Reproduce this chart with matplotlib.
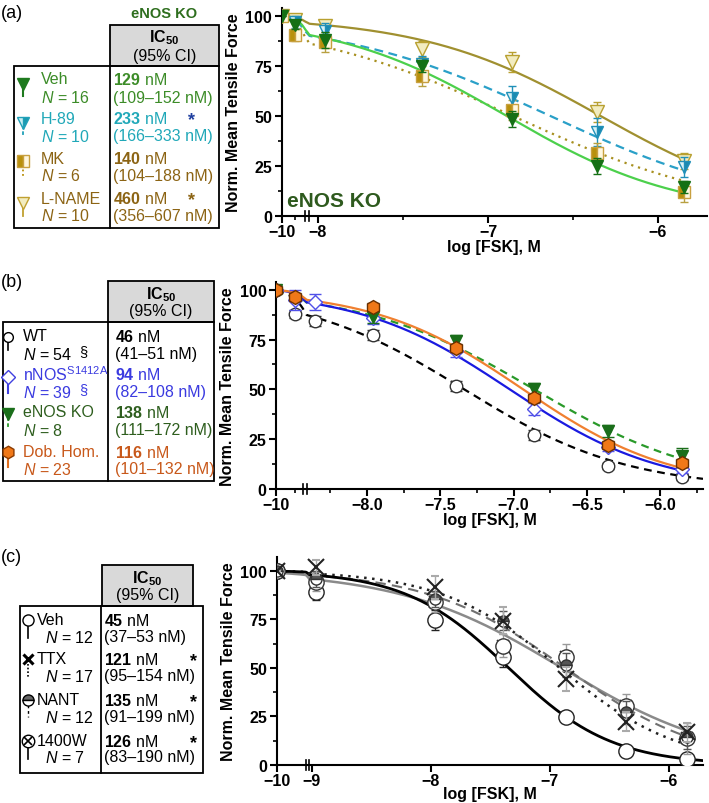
import numpy as np
import matplotlib.pyplot as plt
from matplotlib.patches import Rectangle

plt.rcParams['font.family'] = ['Liberation Sans', 'DejaVu Sans']
plt.rcParams['mathtext.fontset'] = 'custom'
plt.rcParams['mathtext.rm'] = 'Liberation Sans'
plt.rcParams['mathtext.it'] = 'Liberation Sans:italic'
plt.rcParams['mathtext.bf'] = 'Liberation Sans:bold'

# ---------------- panel (a): eNOS KO ----------------
a_x = [-10, -9, -7.96, -7.39, -6.86, -6.36, -5.85]
a_veh = [100, 95.7, 88.3, 75.3, 48.5, 25.1, 14.2]
a_veh_err = [0, 2, 4, 3, 4, 4, 3]
a_h89 = [100, 97, 92.5, 76, 59, 41.8, 24.2]
a_h89_err = [0, 3, 4, 4, 6, 7, 5]
a_mk = [100, 90.6, 87, 70, 53, 31.3, 11.7]
a_mk_err = [0, 3, 5, 5, 5, 5, 5]
a_lname = [100, 98, 95.3, 83.6, 77, 52.2, 27.6]
a_lname_err = [0, 2, 3, 4, 5, 5, 4]
a_names = ['Veh', 'H-89', 'MK', 'L-NAME']
a_n = [16, 10, 6, 10]
a_ic50 = [129, 233, 140, 460]
a_ci = ['(109\u2013152 nM)', '(166\u2013333 nM)', '(104\u2013188 nM)', '(356\u2013607 nM)']
a_star = ['', '*', '', '*']
a_hill = [0.85, 0.68, 0.67, 0.825]

# ---------------- panel (b): genotypes ----------------
b_x = [-10, -9, -8.35, -7.96, -7.39, -6.86, -6.36, -5.85]
b_wt = [100, 87.8, 84.4, 77.4, 51.8, 27.3, 11.4, 5.9]
b_wt_err = [0, 2, 2.5, 2.5, 2.5, 2.5, 1.5, 1.5]
b_nnos = [100, 95, 93.6, 85.6, 69.4, 40.1, 20.9, 10]
b_nnos_err = [0, 5, 4, 3, 3, 3, 2, 2]
b_x_enos = [-10, -7.96, -7.39, -6.86, -6.36, -5.85]
b_enos = [100, 86.1, 74.4, 50.2, 29.3, 16.7]
b_enos_err = [2, 3, 3, 3, 3, 4]
b_x_dob = [-10, -9, -7.96, -7.39, -6.86, -6.36, -5.85]
b_dob = [100, 96.2, 91.1, 70.7, 45.7, 22.1, 13]
b_dob_err = [0, 2, 2, 2, 2, 2, 2]
b_names = ['WT', 'nNOS$^{\\mathrm{S1412A}}$', 'eNOS KO', 'Dob. Hom.']
b_n = [54, 39, 8, 23]
b_ic50 = [46, 94, 138, 116]
b_ci = ['(41\u201351 nM)', '(82\u2013108 nM)', '(111\u2013172 nM)', '(101\u2013132 nM)']
b_hill = [0.78, 0.845, 0.746, 0.86]

# ---------------- panel (c): treatments ----------------
c_x = [-10, -8.96, -7.96, -7.39, -6.86, -6.36, -5.85]
c_veh = [100, 88.9, 74.6, 55.4, 24.5, 7.4, 3.1]
c_veh_err = [0, 4, 5, 5, 2, 2, 2]
c_ttx = [100, 101.7, 91.4, 74.3, 44.3, 22.3, 16.8]
c_ttx_err = [0, 4, 6, 7, 6, 5, 5]
c_nant = [100, 95.7, 85.4, 74.3, 51.5, 27.1, 14.2]
c_nant_err = [0, 4, 4, 5, 6, 6, 6]
c_w1400 = [100, 94.3, 84.0, 61.4, 55.4, 30.5, 13.7]
c_w1400_err = [0, 5, 5, 6, 7, 6, 8]
c_names = ['Veh', 'TTX', 'NANT', '1400W']
c_n = [12, 17, 12, 7]
c_ic50 = [45, 121, 135, 126]
c_ci = ['(37\u201353 nM)', '(95\u2013154 nM)', '(91\u2013199 nM)', '(83\u2013190 nM)']
c_star = ['', '*', '*', '*']
c_hill = [1.0, 0.87, 0.75, 0.636]


def hill(x, ic50, h):
    return 100.0 / (1 + 10 ** ((x - np.log10(ic50 * 1e-9)) * h))


def setup_axis(ax, knots, xlim, ylim, major, labels, minor, breaks_u, xpad=0):
    kx = [k[0] for k in knots]
    ku = [k[1] for k in knots]
    slope = (ku[1] - ku[0]) / (kx[1] - kx[0])
    KX = np.array([-14] + kx + [-4.0])
    KU = np.array([ku[0] - slope * 4] + ku + [-4.0])
    fwd = lambda x: np.interp(x, KX, KU)
    inv = lambda u: np.interp(u, KU, KX)
    ax.set_xscale('function', functions=(fwd, inv))
    ax.set_xlim(*xlim)
    ax.set_ylim(*ylim)
    ax.set_xticks(major)
    ax.set_xticklabels(labels)
    ax.set_xticks(minor, minor=True)
    ax.set_yticks([0, 25, 50, 75, 100])
    ax.set_yticks([12.5, 37.5, 62.5, 87.5], minor=True)
    for s in ['top', 'right']:
        ax.spines[s].set_visible(False)
    for s in ['left', 'bottom']:
        ax.spines[s].set_linewidth(1.5)
    ax.tick_params(which='major', length=5, width=1.5, labelsize=11.5, pad=2)
    ax.tick_params(axis='x', which='major', pad=1)
    ax.tick_params(which='minor', length=3, width=1.2)
    for t in ax.get_xticklabels() + ax.get_yticklabels():
        t.set_fontweight('bold')
    ax.set_xlabel('log [FSK], M', fontsize=11.5, fontweight='bold', labelpad=xpad)
    ax.set_ylabel('Norm. Mean Tensile Force', fontsize=11.5, fontweight='bold', labelpad=3)
    ax.patch.set_visible(False)
    for u in breaks_u:
        xb = float(inv(u))
        ax.plot([xb, xb], [-0.025, 0.025], transform=ax.get_xaxis_transform(),
                color='black', lw=1.2, clip_on=False)


fig = plt.figure(figsize=(7.09, 8.04), dpi=100)
bg = fig.add_axes([0, 0, 1, 1])
bg.set_xlim(0, 709)
bg.set_ylim(804, 0)
bg.axis('off')

FS = 11.5


def draw_table(head, body, div, ic_x, y_ic, rows, lab_x, n_x, r_x, star_x,
               names, ns, ic50, ci, colors, stars, star_colors):
    bg.add_patch(Rectangle((head[0], head[1]), head[2] - head[0], head[3] - head[1],
                           facecolor='#d9d9d9', edgecolor='black', lw=1.3))
    bg.add_patch(Rectangle((body[0], body[1]), body[2] - body[0], body[3] - body[1],
                           facecolor='none', edgecolor='black', lw=1.3))
    bg.plot([div, div], [body[1], body[3]], color='black', lw=1.3)
    bg.text(ic_x, y_ic[0], '$\\mathbf{IC_{50}}$', ha='center', va='center', fontsize=FS)
    bg.text(ic_x, y_ic[1], '(95% CI)', ha='center', va='center', fontsize=FS)
    for i in range(4):
        y1, y2 = rows[i]
        bg.text(lab_x, y1, names[i], color=colors[i], va='center', fontsize=FS)
        bg.text(n_x, y2, '$\\mathit{N}$ = %d' % ns[i], color=colors[i], va='center', fontsize=FS)
        bg.text(r_x, y1, '$\\mathbf{%d}$ nM' % ic50[i], color=colors[i], va='center', fontsize=FS)
        bg.text(r_x, y2, ci[i], color=colors[i], va='center', fontsize=FS)
        if stars[i]:
            bg.text(star_x, y1 + 2, stars[i], color=star_colors[i], va='center', ha='center',
                    fontsize=13, fontweight='bold')


# ================= panel (a) =================
a_cols = ['#3c8c28', '#20a8b8', '#8c6414', '#8c6414']
bg.text(1, 13, '(a)', fontsize=13, va='center')
bg.text(164, 14, 'eNOS KO', fontsize=10.5, fontweight='bold', color='#2e6e1e', ha='center', va='center')
a_rows = [(80, 98), (119, 137), (159, 176), (199, 216)]
draw_table((110, 26, 219, 67), (14, 67, 219, 229), 110, 164.5, (38, 56), a_rows,
           41, 41, 113, 192, a_names, a_n, a_ic50, a_ci, a_cols, a_star,
           ['', '#2040a0', '', '#8c6414'])
# legend symbols
bg.plot([23, 23], [86, 97], color='#1e7a1e', lw=1.5)
bg.plot([23], [85], marker='v', ms=9, color='#1e7a1e')
bg.plot([23, 23], [126, 138], color='#20a0b8', lw=1.3, ls=(0, (2, 1.5)))
bg.plot([23], [124], marker='v', ms=8, mfc='#1a9ab0', mfcalt='#c8eef2', fillstyle='right', mec='#20a0b8')
bg.plot([23, 23], [166, 178], color='#b8900c', lw=1.3, ls=(0, (1, 1.5)))
bg.plot([23], [162], marker='s', ms=8, mfc='#b8900c', mfcalt='#fff6dc', fillstyle='left', mec='#c8a040')
bg.plot([23, 23], [207, 217], color='#c0a030', lw=1.3)
bg.plot([23], [204], marker='v', ms=9, mfc='#f2ecc0', mec='#c0a030')

ax_a = fig.add_axes([281.7 / 709, 1 - 216.7 / 804, 425.3 / 709, 207.3 / 804])
setup_axis(ax_a, [(-10, -8.2135), (-9, -8.135), (-8.25, -8.076), (-8.05, -8.05)],
           (-10, -5.712), (0, 104), [-10, -8, -7, -6], ['\u221210', '\u22128', '\u22127', '\u22126'],
           [-9, -7.5, -6.5], [-8.074, -8.053])
a_end = -5.85
xs = np.linspace(-10, a_end, 600)
ax_a.plot(xs, hill(xs, a_ic50[3], a_hill[3]), color='#a09030', lw=1.6, zorder=2)
ax_a.plot(xs, hill(xs, a_ic50[2], a_hill[2]), color='#a89020', lw=1.6, ls=(0, (1, 2.2)), zorder=2)
ax_a.plot(xs, hill(xs, a_ic50[1], a_hill[1]), color='#2aa0c8', lw=1.6, ls=(0, (4, 2.5)), zorder=2)
ax_a.plot(xs, hill(xs, a_ic50[0], a_hill[0]), color='#4cd04c', lw=1.6, zorder=2)
ax_a.errorbar(a_x, a_lname, yerr=a_lname_err, fmt='v', ms=10, mfc='#f2ecc0', mec='#b8a030',
              ecolor='#b8a030', elinewidth=1, capsize=3, zorder=3)
ax_a.errorbar(a_x, a_h89, yerr=a_h89_err, fmt='v', ms=9, mfc='#1a8ab0', mfcalt='#d8f2f6',
              fillstyle='right', mec='#2090b8', ecolor='#2090b8', elinewidth=1, capsize=3, zorder=4)
ax_a.errorbar(a_x, a_mk, yerr=a_mk_err, fmt='s', ms=8, mfc='#b8900c', mfcalt='#fff8e0',
              fillstyle='left', mec='#c8a040', ecolor='#b8a040', elinewidth=1, capsize=3, zorder=4)
ax_a.errorbar(a_x, a_veh, yerr=a_veh_err, fmt='v', ms=9, color='#157015',
              ecolor='#157015', elinewidth=1, capsize=3, zorder=5)
ax_a.text(0.012, 0.048, 'eNOS KO', transform=ax_a.transAxes, fontsize=15, fontweight='bold',
          color='#2e5a1e', va='baseline')

# ================= panel (b) =================
b_cols = ['black', '#3a3ae0', '#2e5e1e', '#c8581a']
bg.text(1, 283, '(b)', fontsize=13, va='center')
b_rows = [(337, 355), (375, 393), (413, 431), (453, 470)]
draw_table((108, 282, 214, 323), (3, 323, 214, 482), 108, 161, (295, 312), b_rows,
           23, 23, 115, 0, b_names, b_n, b_ic50, b_ci, b_cols, ['', '', '', ''],
           ['', '', '', ''])
bg.text(83, 352, '\u00a7', color='black', fontsize=10.5, ha='center', va='center')
bg.text(83, 390, '\u00a7', color='#3a3ae0', fontsize=10.5, ha='center', va='center')
bg.plot([8, 8], [342, 351], color='black', lw=1.2)
bg.plot([8], [338], marker='o', ms=7, mfc='white', mec='black')
bg.plot([8, 8], [382, 394], color='#4040e0', lw=1.5)
bg.plot([8], [378], marker='D', ms=7, mfc='white', mec='#4040e0')
bg.plot([8, 8], [418, 430], color='#2a9a2a', lw=1.3, ls=(0, (2, 1.5)))
bg.plot([8], [415], marker='v', ms=8, color='#1a6e1a')
bg.plot([8, 8], [456, 468], color='#e07020', lw=1.5)
bg.plot([8], [453], marker='h', ms=9, mfc='#f07818', mec='#8a3a00')

ax_b = fig.add_axes([276 / 709, 1 - 490 / 804, 427 / 709, 207.3 / 804])
setup_axis(ax_b, [(-10, -8.619), (-9, -8.489), (-8.55, -8.43), (-8.41, -8.41)],
           (-10, -5.71), (0, 104), [-10, -8, -7.5, -7, -6.5, -6],
           ['\u221210', '\u22128.0', '\u22127.5', '\u22127.0', '\u22126.5', '\u22126.0'],
           [-9, -8.25, -7.75, -7.25, -6.75, -6.25, -5.75], [-8.4345, -8.4086])
xs = np.linspace(-10, -5.85, 600)
xw = np.linspace(-10, -5.71, 600)
ax_b.plot(xw, hill(xw, b_ic50[0], b_hill[0]), color='black', lw=1.6, ls=(0, (3.5, 2.5)), zorder=2)
ax_b.plot(xs, hill(xs, b_ic50[2], b_hill[2]), color='#2a9a2a', lw=1.6, ls=(0, (3.5, 2.5)), zorder=2)
ax_b.plot(xs, hill(xs, b_ic50[1], b_hill[1]), color='#1a1ae0', lw=1.6, zorder=2)
ax_b.plot(xs, hill(xs, b_ic50[3], b_hill[3]), color='#f08030', lw=1.6, zorder=2)
ax_b.errorbar(b_x, b_wt, yerr=b_wt_err, fmt='o', ms=9, mfc='white', mec='#333333',
              ecolor='#333333', elinewidth=1, capsize=4, zorder=3)
ax_b.errorbar(b_x, b_nnos, yerr=b_nnos_err, fmt='D', ms=7, mfc='white', mec='#5050e8',
              ecolor='#5050e8', elinewidth=1, capsize=4, zorder=4)
ax_b.errorbar(b_x_enos, b_enos, yerr=b_enos_err, fmt='v', ms=9, color='#1a6e1a',
              ecolor='#1a6e1a', elinewidth=1, capsize=4, zorder=5)
ax_b.errorbar(b_x_dob, b_dob, yerr=b_dob_err, fmt='h', ms=10, mfc='#f07818', mec='#6a3000',
              ecolor='#6a3000', elinewidth=1, capsize=4, zorder=6)

# ================= panel (c) =================
c_cols = ['black'] * 4
bg.text(1, 558, '(c)', fontsize=13, va='center')
c_rows = [(621, 638), (660, 677), (701, 718), (742, 758)]
draw_table((102, 566, 193, 607), (20, 607, 203, 774), 101, 147.5, (579, 596), c_rows,
           37, 45, 104, 193, c_names, c_n, c_ic50, c_ci, c_cols, c_star, c_cols)
bg.plot([28, 28], [626, 639], color='black', lw=1.2)
bg.plot([28], [621], marker='o', ms=8, mfc='white', mec='black')
bg.plot([28, 28], [665, 678], color='black', lw=1.2, ls=(0, (1, 1.2)))
bg.plot([28], [660], marker='x', ms=7, mew=2.2, color='black')
bg.plot([28, 28], [706, 718], color='black', lw=1.0, ls=(0, (2, 2)))
bg.plot([28], [701], marker='o', ms=8, mfc='#666666', mfcalt='white', fillstyle='top', mec='black')
bg.plot([28, 28], [748, 760], color='black', lw=1.2)
bg.plot([28], [742], marker='o', ms=9, mfc='white', mec='black')
bg.plot([28], [742], marker='x', ms=6, mew=1.2, color='black')

ax_c = fig.add_axes([276.7 / 709, 1 - 766 / 804, 426.6 / 709, 207.9 / 804])
setup_axis(ax_c, [(-10, -9.294), (-9.5, -9.05), (-9.02, -9.02)],
           (-10, -5.71), (0, 107), [-10, -9, -8, -7, -6],
           ['\u221210', '\u22129', '\u22128', '\u22127', '\u22126'], [], [-9.048, -9.022], xpad=-2)
xs = np.linspace(-10, -5.85, 600)
xw = np.linspace(-10, -5.71, 600)
ax_c.plot(xs, hill(xs, c_ic50[3], c_hill[3]), color='#8a8a8a', lw=1.8, zorder=2)
ax_c.plot(xs, hill(xs, c_ic50[2], c_hill[2]), color='#707070', lw=1.5, ls=(0, (5, 3)), zorder=2)
ax_c.plot(xs, hill(xs, c_ic50[1], c_hill[1]), color='#222222', lw=1.8, ls=(0, (1, 2.2)), zorder=2)
ax_c.plot(xw, hill(xw, c_ic50[0], c_hill[0]), color='black', lw=2, zorder=2)
ax_c.errorbar(c_x, c_veh, yerr=c_veh_err, fmt='o', ms=11, mfc='white', mec='#222222',
              ecolor='#222222', elinewidth=1, capsize=3, zorder=3)
ax_c.errorbar(c_x, c_w1400, yerr=c_w1400_err, fmt='o', ms=11, mfc='white', mec='#333333',
              ecolor='#999999', elinewidth=1, capsize=3, zorder=4)
ax_c.plot(c_x, c_w1400, 'x', ms=8, mew=1.2, color='#333333', zorder=4)
ax_c.errorbar(c_x, c_nant, yerr=c_nant_err, fmt='o', ms=8, mfc='#555555', mfcalt='white',
              fillstyle='top', mec='#333333', ecolor='#555555', elinewidth=1, capsize=3, zorder=5)
ax_c.errorbar(c_x, c_ttx, yerr=c_ttx_err, fmt='x', ms=11, mew=1.5, color='#222222',
              ecolor='#aaaaaa', elinewidth=1, capsize=3, zorder=6)

fig.savefig('out.png', dpi=100)
